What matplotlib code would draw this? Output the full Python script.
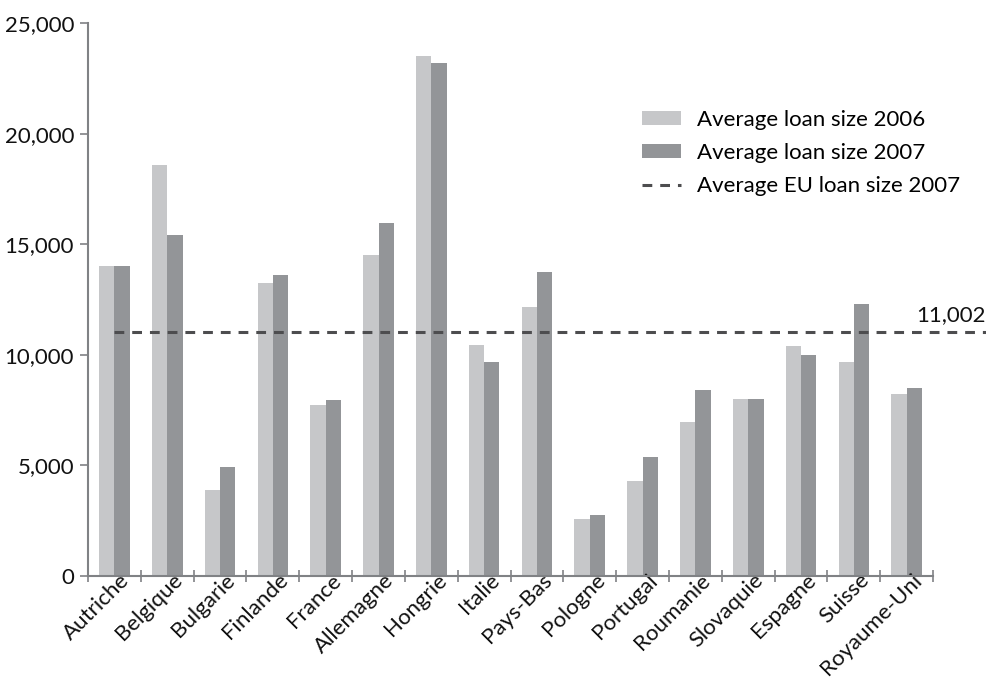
import numpy as np
import matplotlib
matplotlib.use("Agg")
import matplotlib.pyplot as plt
import matplotlib.transforms as mtransforms
from matplotlib.ticker import FuncFormatter

plt.rcParams['font.family'] = ['Lato', 'DejaVu Sans']

countries = ['Autriche', 'Belgique', 'Bulgarie', 'Finlande', 'France', 'Allemagne',
             'Hongrie', 'Italie', 'Pays-Bas', 'Pologne', 'Portugal', 'Roumanie',
             'Slovaquie', 'Espagne', 'Suisse', 'Royaume-Uni']
loan_2006 = [14000, 18580, 3880, 13260, 7730, 14530, 23500, 10450, 12170, 2570,
             4290, 6960, 8000, 10410, 9680, 8230]
loan_2007 = [14000, 15410, 4920, 13620, 7960, 15940, 23190, 9680, 13760, 2750,
             5380, 8380, 8000, 10000, 12310, 8500]
eu_avg_2007 = 11002

c06 = '#c6c7c9'
c07 = '#939598'
axis_col = '#808285'
fs = 16

fig = plt.figure(figsize=(9.86, 6.82), dpi=100)
ax = fig.add_axes([0.0893, 0.156, 0.857, 0.810])

x = np.arange(len(countries))
w = 0.29
b06 = ax.bar(x - w / 2, loan_2006, w, color=c06, label='Average loan size 2006')
b07 = ax.bar(x + w / 2, loan_2007, w, color=c07, label='Average loan size 2007')
eu, = ax.plot([0, 16.5], [eu_avg_2007, eu_avg_2007], color='#4d4d4f', lw=2.2,
              ls=(0, (3.2, 2.6)), clip_on=False, label='Average EU loan size 2007')
ax.text(16.5, eu_avg_2007 + 350, f'{eu_avg_2007:,}', ha='right', va='bottom',
        fontsize=fs, color='#111111')

ax.set_xlim(-0.5, len(countries) - 0.5)
ax.set_ylim(0, 25000)
ax.set_yticks(np.arange(0, 25001, 5000))
ax.yaxis.set_major_formatter(FuncFormatter(lambda v, p: f'{int(v):,}'))

ax.set_xticks(x)
ax.set_xticklabels(countries, rotation=45, ha='right', rotation_mode='anchor')
ax.set_xticks(np.arange(-0.5, len(countries)), minor=True)
ax.tick_params(axis='x', which='major', length=0, pad=-4, labelsize=fs, labelcolor='#111111')
ax.tick_params(axis='x', which='minor', length=8, direction='inout', color=axis_col, width=1.2)
ax.tick_params(axis='y', length=6, color=axis_col, width=1.2, labelsize=fs,
               labelcolor='#111111', pad=4)

# nudge the rotated labels so their ends sit just right of each group
shift = mtransforms.ScaledTranslation(0.05, 0, fig.dpi_scale_trans)
for lab in ax.get_xticklabels():
    lab.set_transform(lab.get_transform() + shift)

for s in ['top', 'right']:
    ax.spines[s].set_visible(False)
for s in ['left', 'bottom']:
    ax.spines[s].set_color(axis_col)
    ax.spines[s].set_linewidth(1.5)

ax.legend(handles=[b06, b07, eu], loc='upper left', bbox_to_anchor=(0.642, 0.852),
          bbox_transform=fig.transFigure, frameon=False, fontsize=fs,
          handlelength=1.75, handleheight=0.6, labelspacing=0.6, handletextpad=0.75,
          borderaxespad=0)

fig.savefig('out.png', dpi=100)
